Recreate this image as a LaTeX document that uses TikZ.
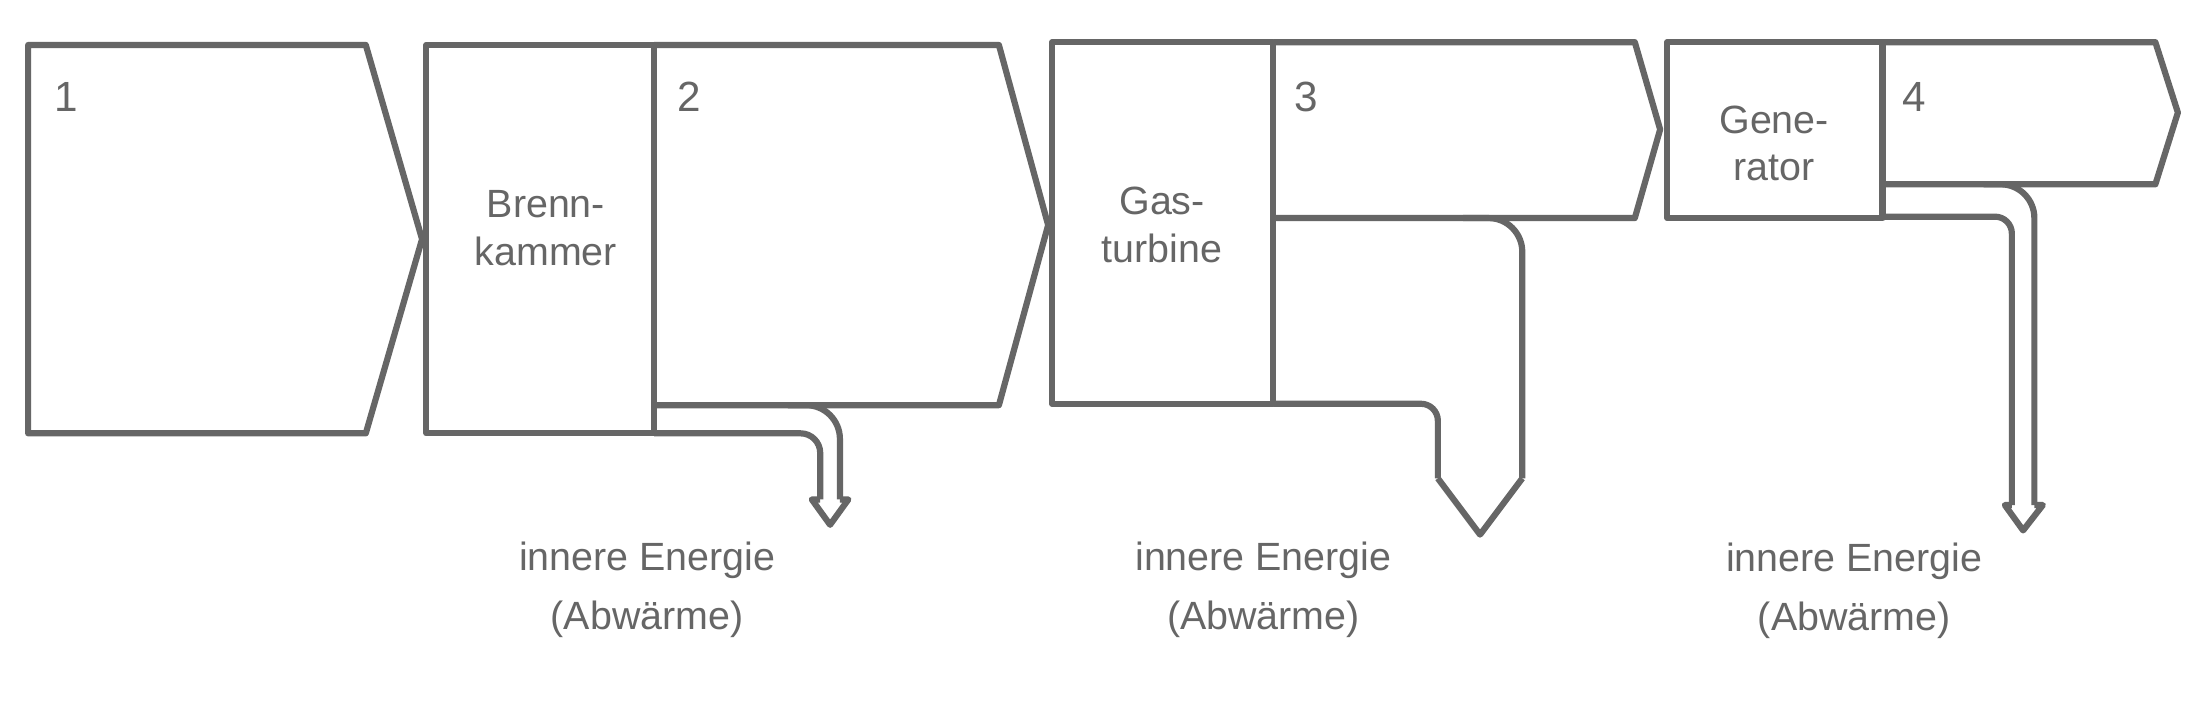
\documentclass[tikz,border=0pt]{standalone}
\usepackage{fontspec}
\setmainfont{Liberation Sans}
\definecolor{ln}{HTML}{666666}
\begin{document}
\begin{tikzpicture}[x=0.5pt,y=-0.5pt,
  sh/.style={draw=ln,line width=2.2pt,line join=round},
  lab/.style={text=ln,font=\fontsize{14}{17}\selectfont,align=center,inner sep=0pt},
  num/.style={text=ln,font=\fontsize{15}{18}\selectfont,anchor=north west,inner sep=0pt}]
\useasboundingbox[fill=white] (0,0) rectangle (1568,507);
% box 1
\draw[sh] (20,32) -- (260,32) -- (300,170) -- (260,308) -- (20,308) -- cycle;
% Brennkammer
\draw[sh] (303,32) rectangle (465,308);
% box 2
\draw[sh] (465,32) -- (710,32) -- (745,160) -- (710,288) -- (465,288);
\draw[sh,rounded corners=7pt] (465,308) -- (583,308) -- (583,355);
\draw[sh] (583,355) -- (577,355) -- (590,373) -- (603,355) -- (597,355);
\draw[sh,rounded corners=12pt] (597,355) -- (597,288) -- (560,288);
% Gasturbine
\draw[sh] (748,30) rectangle (905,287);
% box 3
\draw[sh] (905,30) -- (1162,30) -- (1180,92) -- (1162,155) -- (905,155);
\draw[sh,rounded corners=6pt] (905,287) -- (1022,287) -- (1022,340);
\draw[sh] (1022,340) -- (1052,380) -- (1082,340);
\draw[sh,rounded corners=12pt] (1082,340) -- (1082,155) -- (1040,155);
% Generator
\draw[sh] (1185,30) rectangle (1338,155);
% box 4
\draw[sh] (1338,30) -- (1532,30) -- (1548,80) -- (1532,131) -- (1338,131);
\draw[sh,rounded corners=6pt] (1338,154) -- (1430,154) -- (1430,359);
\draw[sh] (1430,359) -- (1425,359) -- (1438,377) -- (1452,359) -- (1446,359);
\draw[sh,rounded corners=12pt] (1446,359) -- (1446,131) -- (1410,131);
% texts
\node[num] (n1) at (38,58) {1};
\node[num] (n2) at (481,58) {2};
\node[num] (n3) at (920,58) {3};
\node[num] (n4) at (1352,58) {4};
\node[lab] (bk) at (388,162) {Brenn-\\kammer};
\node[lab] (gt) at (826,160) {Gas-\\turbine};
\node[lab] (gen) at (1261,102) {Gene-\\rator};
\node[lab] (e1) at (460,419) {innere Energie\\[4pt](Abwärme)};
\node[lab] (e2) at (898,419) {innere Energie\\[4pt](Abwärme)};
\node[lab] (e3) at (1318,420) {innere Energie\\[4pt](Abwärme)};
\end{tikzpicture}
\end{document}
